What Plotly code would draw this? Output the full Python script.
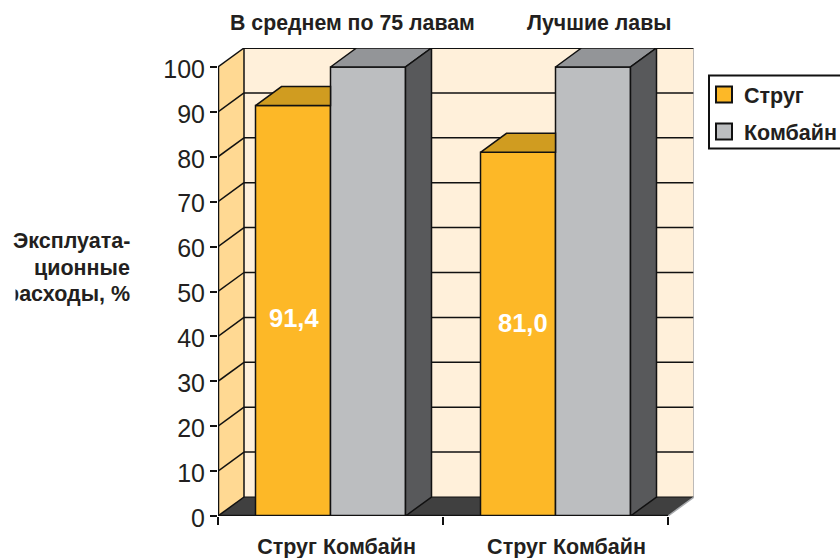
import plotly.graph_objects as go

groups = [0.5, 1.5]
plow_name = "Струг"
shearer_name = "Комбайн"
plow_values = [91.4, 81.0]
shearer_values = [100, 100]
plow_labels = ["91,4", "81,0"]
y_ticks = list(range(0, 101, 10))
x_label_pos = [0.527, 1.549]
x_labels = ["Струг Комбайн", "Струг Комбайн"]
panel_titles = ["В среднем по 75 лавам", "Лучшие лавы"]
y_title_lines = ["Эксплуата-", "ционные", "расходы, %"]

FONT = "Liberation Sans"
INK = "#231F20"
PLOW = "#FDB827"
PLOW_TOP = "#D09C20"
SHEARER = "#BCBEC0"
SHEARER_TOP = "#939598"
SHEARER_SIDE = "#58595B"
WALL = "#FFF0DA"
SIDE_WALL = "#FFD993"
FLOOR = "#404040"
EDGE_GRAY = "#A7A9AC"

W, H = 840, 558
L, R, T, B = 218, 146, 48, 42
PX_X = 225.0
PX_Y = 4.49
XMAX = (W - L - R) / PX_X
YMAX = (H - T - B) / PX_Y
DX = 26 / PX_X
DY = 19 / PX_Y
BAR = 1 / 3


def poly(xs, ys, fill, line="#111111", width=1.5):
    return go.Scatter(x=xs, y=ys, mode="lines", fill="toself", fillcolor=fill,
                      line=dict(color=line, width=width), showlegend=False, hoverinfo="skip")


fig = go.Figure()
fig.add_bar(x=groups, y=plow_values, name=plow_name, marker=dict(color=PLOW, line=dict(color="#111111", width=1.5)), showlegend=False)
fig.add_bar(x=groups, y=shearer_values, name=shearer_name, marker=dict(color=SHEARER, line=dict(color="#111111", width=1.5)), showlegend=False)

for g, pv, sv in zip(groups, plow_values, shearer_values):
    left = g - BAR
    fig.add_trace(poly([left, left + DX, g, g, left], [pv, pv + DY, pv + DY, pv, pv], PLOW_TOP))
    right = g + BAR
    fig.add_trace(poly([g, g + DX, right + DX, right, g], [sv, sv + DY, sv + DY, sv, sv], SHEARER_TOP))
    fig.add_trace(poly([right, right + DX, right + DX, right, right], [0, DY, sv + DY, sv, 0], SHEARER_SIDE))

# front edges of the box
fig.add_trace(go.Scatter(x=[0, 0, 2], y=[100, 0, 0], mode="lines", line=dict(color="#111111", width=2.5),
                         showlegend=False, hoverinfo="skip"))

# legend entries
for name, color in ((plow_name, PLOW), (shearer_name, SHEARER)):
    fig.add_trace(go.Scatter(x=[None], y=[None], mode="markers", name=name, legendgroup=name,
                             marker=dict(symbol="square", size=16, color=color, line=dict(color="#111111", width=2))))

shapes = []
def add_poly(xs, ys, fill):
    path = "M" + "L".join(f"{x},{y}" for x, y in zip(xs, ys)) + "Z"
    shapes.append(dict(type="path", path=path, fillcolor=fill, line=dict(width=0), layer="below"))
def add_line(x0, y0, x1, y1, color="#111111", width=1.5):
    shapes.append(dict(type="line", x0=x0, y0=y0, x1=x1, y1=y1, line=dict(color=color, width=width), layer="below"))

add_poly([DX, 2 + DX, 2 + DX, DX], [DY, DY, 100 + DY, 100 + DY], WALL)
add_poly([0, DX, DX, 0], [0, DY, 100 + DY, 100], SIDE_WALL)
add_poly([0, DX, 2 + DX, 2], [0, DY, DY, 0], FLOOR)
for v in y_ticks[1:-1]:
    add_line(DX, v + DY, 2 + DX, v + DY)
for v in y_ticks:
    add_line(0, v, DX, v + DY)
add_line(DX, DY, DX, 100 + DY)
add_line(DX, 100 + DY, 2 + DX, 100 + DY, width=2)
add_line(DX, DY, 2 + DX, DY, width=1)
add_line(2 + DX, DY, 2 + DX, 100 + DY, EDGE_GRAY, 1.5)
add_line(2, 0, 2 + DX, DY, EDGE_GRAY, 1.5)

# legend frame
shapes.append(dict(type="rect", xref="paper", yref="paper",
                   x0=(709 - L) / (W - L - R), x1=(845 - L) / (W - L - R),
                   y0=(H - B - 148.5) / (H - T - B), y1=(H - B - 75.5) / (H - T - B),
                   line=dict(color="#111111", width=2), fillcolor="white", layer="below"))

ann = []
label_offsets = [(0.004, 44.1), (0.022, 43.0)]
for g, txt, (ox, yy) in zip(groups, plow_labels, label_offsets):
    ann.append(dict(x=g - BAR / 2 + ox, y=yy, text=txt, showarrow=False, xref="x", yref="y",
                    xanchor="center", yanchor="middle",
                    font=dict(family=FONT, size=25.5, color="white", weight=700)))
for t, px in zip(panel_titles, (352, 599)):
    ann.append(dict(x=(px - L) / (W - L - R), y=(H - B - 23) / (H - T - B), xref="paper", yref="paper",
                    xanchor="center", yanchor="middle",
                    text=t, showarrow=False, font=dict(family=FONT, size=21.3, color=INK, weight=700)))
for t, py in zip(y_title_lines, (241, 268, 294)):
    ann.append(dict(x=(131 - L) / (W - L - R), y=(H - B - py) / (H - T - B), xref="paper", yref="paper",
                    xanchor="right", yanchor="middle", xshift=1,
                    text=t, showarrow=False, font=dict(family=FONT, size=21.5, color=INK, weight=700)))
# the reference crops the start of the lowest line at its left edge
ann.append(dict(x=0, y=(H - B - 294) / (H - T - B), xref="paper", yref="paper", xshift=-218, xanchor="left", yanchor="middle",
                text=" ", showarrow=False, width=12, height=28, bgcolor="white"))

fig.update_layout(
    width=W, height=H, autosize=False,
    margin=dict(l=L, r=R, t=T, b=B, autoexpand=False, pad=0),
    plot_bgcolor="rgba(0,0,0,0)", paper_bgcolor="white",
    barmode="group", bargap=1 / 3, bargroupgap=0,
    shapes=shapes, annotations=ann,
    legend=dict(x=(704 - L) / (W - L - R), y=(H - B - 74) / (H - T - B), xanchor="left", yanchor="top",
                bgcolor="rgba(0,0,0,0)", borderwidth=0, tracegroupgap=6,
                font=dict(family=FONT, size=21.5, color=INK, weight=700)),
    xaxis=dict(range=[0, XMAX], showgrid=False, zeroline=False, showline=False, tickmode="array",
               tickvals=x_label_pos, ticktext=x_labels, ticks="", ticklabelstandoff=15,
               tickfont=dict(family=FONT, size=21.5, color=INK, weight=700),
               minor=dict(tickmode="array", tickvals=[0, 1, 2], ticks="outside", ticklen=8, tickwidth=2, tickcolor="#111111", showgrid=False)),
    yaxis=dict(range=[0, YMAX], showgrid=False, zeroline=False, showline=False, tickmode="array",
               tickvals=y_ticks, ticks="outside", ticklen=7, tickwidth=2, tickcolor="#111111", ticklabelshift=2,
               tickfont=dict(family=FONT, size=25, color=INK)),
)
fig.write_html("out.html", config=dict(displayModeBar=False),
               post_script="document.body.style.margin='0';document.body.style.overflow='hidden';")
